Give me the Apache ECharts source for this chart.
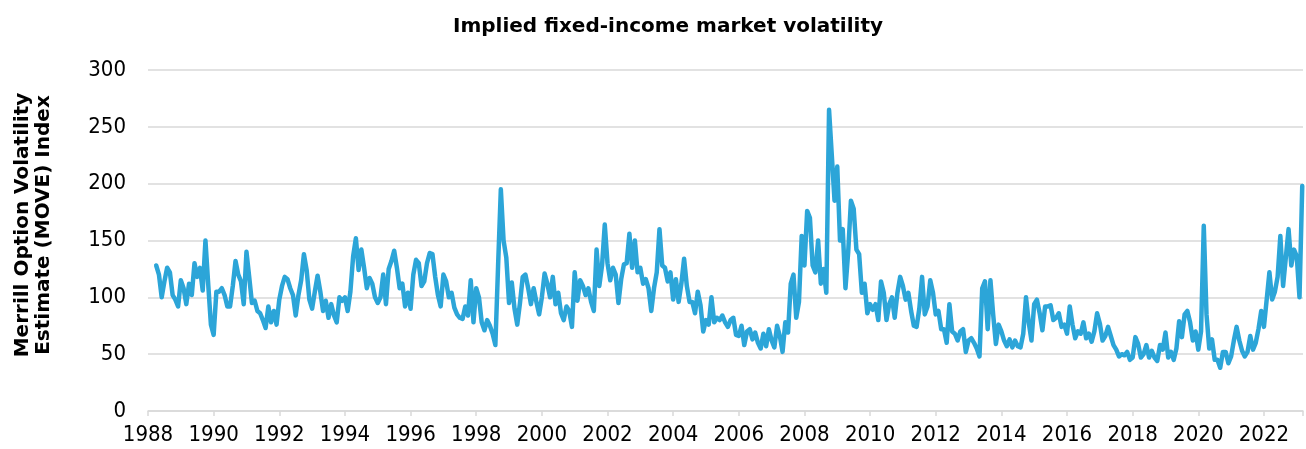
<!DOCTYPE html>
<html>
<head>
<meta charset="utf-8">
<title>Implied fixed-income market volatility</title>
<script src="https://cdn.jsdelivr.net/npm/echarts@6/dist/echarts.min.js"></script>
<style>
  html, body { margin: 0; padding: 0; background: #fff; }
  #chart { width: 1306px; height: 449px; }
</style>
</head>
<body>
<div id="chart"></div>
<script>
// monthly MOVE index readings, first value is April 1988
const firstYear = 1988;
const firstMonth = 3; // 0 = January

const move1988to1992 = [
  128, 120, 100, 114, 126, 122, 102, 98, 92,
  115, 108, 94, 112, 102, 130, 118, 126, 106, 150, 112, 76,
  67, 105, 105, 108, 102, 92, 92, 110, 132, 120, 114, 94,
  140, 118, 95, 97, 88, 86, 80, 73, 92, 78, 88, 76,
  98, 110, 118, 116, 108, 102, 84, 102, 115, 138, 124, 98
];
const move1993to1997 = [
  90, 105, 119, 105, 88, 97, 82, 94, 84, 78, 100, 97,
  100, 88, 105, 136, 152, 124, 142, 126, 108, 117, 112, 100,
  95, 100, 120, 94, 125, 132, 141, 126, 108, 112, 92, 104,
  90, 120, 133, 130, 110, 114, 130, 139, 138, 118, 102, 92,
  120, 114, 100, 104, 91, 85, 82, 81, 92, 84, 115, 78
];
const move1998to2002 = [
  108, 100, 78, 71, 80, 75, 68, 58, 128, 195, 150, 135,
  95, 113, 90, 76, 95, 118, 120, 108, 94, 108, 96, 85,
  100, 121, 112, 100, 118, 94, 104, 86, 80, 92, 88, 74,
  122, 97, 115, 110, 102, 108, 96, 88, 142, 110, 128, 164,
  130, 115, 126, 120, 95, 116, 129, 130, 156, 126, 150, 122
];
const move2003to2007 = [
  126, 112, 116, 108, 88, 108, 122, 160, 128, 126, 114, 122,
  98, 116, 96, 112, 134, 110, 96, 96, 86, 105, 93, 70,
  80, 76, 100, 78, 82, 80, 84, 78, 74, 80, 82, 67,
  66, 75, 58, 70, 72, 63, 69, 60, 55, 68, 57, 72,
  62, 56, 75, 66, 52, 78, 69, 112, 120, 82, 96, 154
];
const move2008to2012 = [
  128, 176, 170, 128, 122, 150, 112, 125, 104, 265, 225, 185,
  215, 150, 160, 108, 140, 185, 178, 142, 138, 104, 112, 86,
  94, 89, 94, 80, 114, 104, 80, 94, 100, 82, 104, 118,
  110, 98, 104, 88, 75, 74, 90, 118, 85, 92, 115, 104,
  85, 88, 72, 72, 60, 94, 70, 68, 62, 70, 72, 52
];
const move2013to2017 = [
  62, 64, 60, 55, 48, 108, 114, 72, 115, 85, 59, 76,
  70, 62, 57, 63, 56, 62, 57, 56, 68, 100, 78, 62,
  94, 98, 86, 71, 92, 92, 93, 80, 82, 86, 74, 76,
  68, 92, 76, 64, 70, 68, 78, 64, 68, 61, 70, 86,
  77, 62, 66, 74, 66, 58, 54, 48, 50, 49, 52, 45
];
const move2018to2023 = [
  47, 65, 59, 47, 50, 58, 47, 53, 47, 44, 58, 54,
  69, 47, 52, 45, 55, 79, 65, 85, 88, 78, 62, 70,
  54, 70, 163, 85, 55, 63, 45, 45, 38, 52, 52, 42,
  48, 62, 74, 62, 53, 48, 52, 66, 54, 60, 72, 88,
  74, 98, 122, 98, 105, 118, 154, 110, 135, 160, 128, 142,
  136, 100, 198
];

const yTicks = [0, 50, 100, 150, 200, 250, 300];

const moveValues = [].concat(
  move1988to1992, move1993to1997, move1998to2002, move2003to2007,
  move2008to2012, move2013to2017, move2018to2023
);
const moveData = moveValues.map((v, i) => [firstYear + (firstMonth + i) / 12, v]);

const font = '"DejaVu Sans Condensed", "DejaVu Sans", sans-serif';
const boldFont = '"DejaVu Sans", sans-serif';
const chart = echarts.init(document.getElementById('chart'));

chart.setOption({
  animation: false,
  backgroundColor: '#fff',
  title: {
    text: 'Implied fixed-income market volatility',
    left: 663,
    top: 12,
    textAlign: 'center',
    textStyle: { fontFamily: boldFont, fontSize: 20, fontWeight: 'bold', color: '#000' }
  },
  graphic: [
    {
      type: 'text',
      x: 33,
      y: 225,
      rotation: Math.PI / 2,
      style: {
        text: 'Merrill Option Volatility\nEstimate (MOVE) Index',
        font: 'bold 20px ' + boldFont,
        lineHeight: 21,
        fill: '#000',
        textAlign: 'center',
        textVerticalAlign: 'middle'
      }
    }
  ],
  grid: { left: 148, right: 0, top: 70, bottom: 38 },
  xAxis: {
    type: 'value',
    min: 1988,
    max: 2023.19,
    interval: 2,
    axisLine: { show: true, lineStyle: { color: '#d9d9d9', width: 1.5 } },
    axisTick: { show: true, length: 5, lineStyle: { color: '#d9d9d9', width: 1.5 } },
    splitLine: { show: false },
    axisLabel: {
      margin: 13,
      fontFamily: font,
      fontSize: 22,
      color: '#000',
      formatter: v => (Number.isInteger(v) && v % 2 === 0 ? String(v) : '')
    }
  },
  yAxis: {
    type: 'value',
    min: yTicks[0],
    max: yTicks[yTicks.length - 1],
    interval: 50,
    axisLine: { show: false },
    axisTick: { show: false },
    splitLine: { lineStyle: { color: '#d9d9d9', width: 1.5 } },
    axisLabel: { margin: 22, fontFamily: font, fontSize: 22, color: '#000' }
  },
  series: [
    {
      type: 'line',
      data: moveData,
      showSymbol: false,
      clip: true,
      lineStyle: { color: '#2ca5d8', width: 4.5, cap: 'round', join: 'round' }
    }
  ]
});

window.addEventListener('resize', () => chart.resize());
</script>
</body>
</html>
